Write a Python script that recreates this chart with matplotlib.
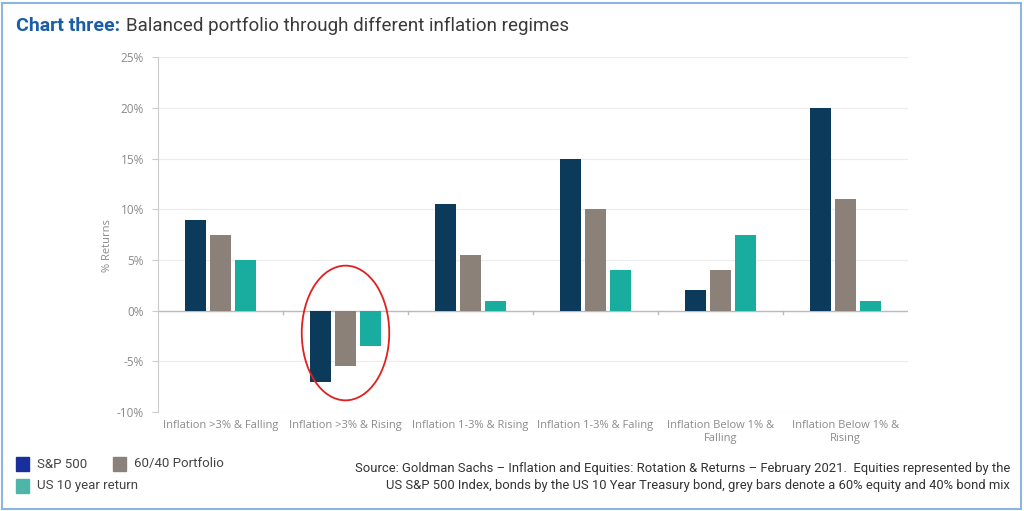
import matplotlib.pyplot as plt
import numpy as np
from matplotlib.patches import Ellipse, Rectangle

# data
categories = ["Inflation >3% & Falling", "Inflation >3% & Rising",
              "Inflation 1-3% & Rising", "Inflation 1-3% & Faling",
              "Inflation Below 1% &\nFalling", "Inflation Below 1% &\nRising"]
sp500 = [9, -7, 10.5, 15, 2, 20]
portfolio = [7.5, -5.5, 5.5, 10, 4, 11]
us10y = [5, -3.5, 1, 4, 7.5, 1]
y_ticks = [-10, -5, 0, 5, 10, 15, 20, 25]
legend_labels = ["S&P 500", "60/40 Portfolio", "US 10 year return"]

c_sp = "#0c3a5b"
c_pf = "#8c8179"
c_us = "#19ad9f"
grey_txt = "#8a8a8a"

W, H = 1024, 511
fig = plt.figure(figsize=(W / 100, H / 100), dpi=100)
ax = fig.add_axes([158 / W, 1 - 412 / H, 750 / W, (412 - 57.5) / H])

x = np.arange(len(categories))
w = 0.17
ax.bar(x - 0.2, sp500, w, color=c_sp, zorder=3)
ax.bar(x, portfolio, w, color=c_pf, zorder=3)
ax.bar(x + 0.2, us10y, w, color=c_us, zorder=3)

ax.set_xlim(-0.5, len(categories) - 0.5)
ax.set_ylim(-10, 25)
ax.set_yticks(y_ticks)
ax.set_yticklabels([f"{v}%" for v in y_ticks], fontsize=8.5, color=grey_txt,
                   family="Open Sans")
ax.set_xticks(x)
ax.set_xticklabels(categories, fontsize=8, color=grey_txt, family="Open Sans")
ax.tick_params(axis="x", length=0, pad=6)
ax.tick_params(axis="y", length=4, color="#cccccc", pad=6)
ax.grid(axis="y", color="#ececec", lw=0.8, zorder=0)
ax.axhline(0, color="#bbbbbb", lw=1, zorder=2)
for b in np.arange(0.5, len(categories) - 0.5, 1):
    ax.plot([b, b], [0, -0.35], color="#bbbbbb", lw=1, zorder=2, clip_on=False)
for s in ["top", "right", "bottom"]:
    ax.spines[s].set_visible(False)
ax.spines["left"].set_color("#cccccc")
ax.set_ylabel("% Returns", fontsize=8, color=grey_txt, family="Open Sans")
ax.yaxis.set_label_coords(-45 / 750, 0.47)

# red circle around the rising-inflation group
ax.add_patch(Ellipse((1.0, -2.2), 0.7, 13.3, fill=False, ec="#e02020", lw=1.3, zorder=4))

# title
t1 = fig.text(16 / W, 1 - 26 / H, "Chart three:", fontsize=14, fontweight="bold",
              color="#1a5ea8", family="Roboto", va="center")
fig.canvas.draw()
bb = t1.get_window_extent()
fig.text(bb.x1 / W + 6 / W, 1 - 26 / H, "Balanced portfolio through different inflation regimes",
         fontsize=13.5, color="#3a3a3a", family="Roboto", va="center")

# legend, drawn by hand to match positions
leg_cols = ["#1a2f9e", "#8a817c", "#4db6a8"]
leg_pos = [(16, 457), (113, 457), (16, 479)]
for lab, col, (px, py) in zip(legend_labels, leg_cols, leg_pos):
    fig.patches.append(Rectangle((px / W, 1 - (py + 14) / H), 13 / W, 14 / H,
                                 transform=fig.transFigure, color=col))
    fig.text((px + 21) / W, 1 - (py + 7) / H, lab, fontsize=9.5, color="#444444",
             family="Roboto", va="center")

fig.text(1010 / W, 1 - 477 / H,
         "Source: Goldman Sachs \u2013 Inflation and Equities: Rotation & Returns \u2013 February 2021.  Equities represented by the\n"
         "US S&P 500 Index, bonds by the US 10 Year Treasury bond, grey bars denote a 60% equity and 40% bond mix",
         fontsize=9.35, color="#333333", family="Roboto", ha="right", va="center",
         multialignment="right", linespacing=1.4)

# border
fig.patches.append(Rectangle((2 / W, 2 / H), 1019 / W, 506 / H, transform=fig.transFigure,
                             fill=False, ec="#8fb4de", lw=1.5))

fig.savefig("out.png", dpi=100)
